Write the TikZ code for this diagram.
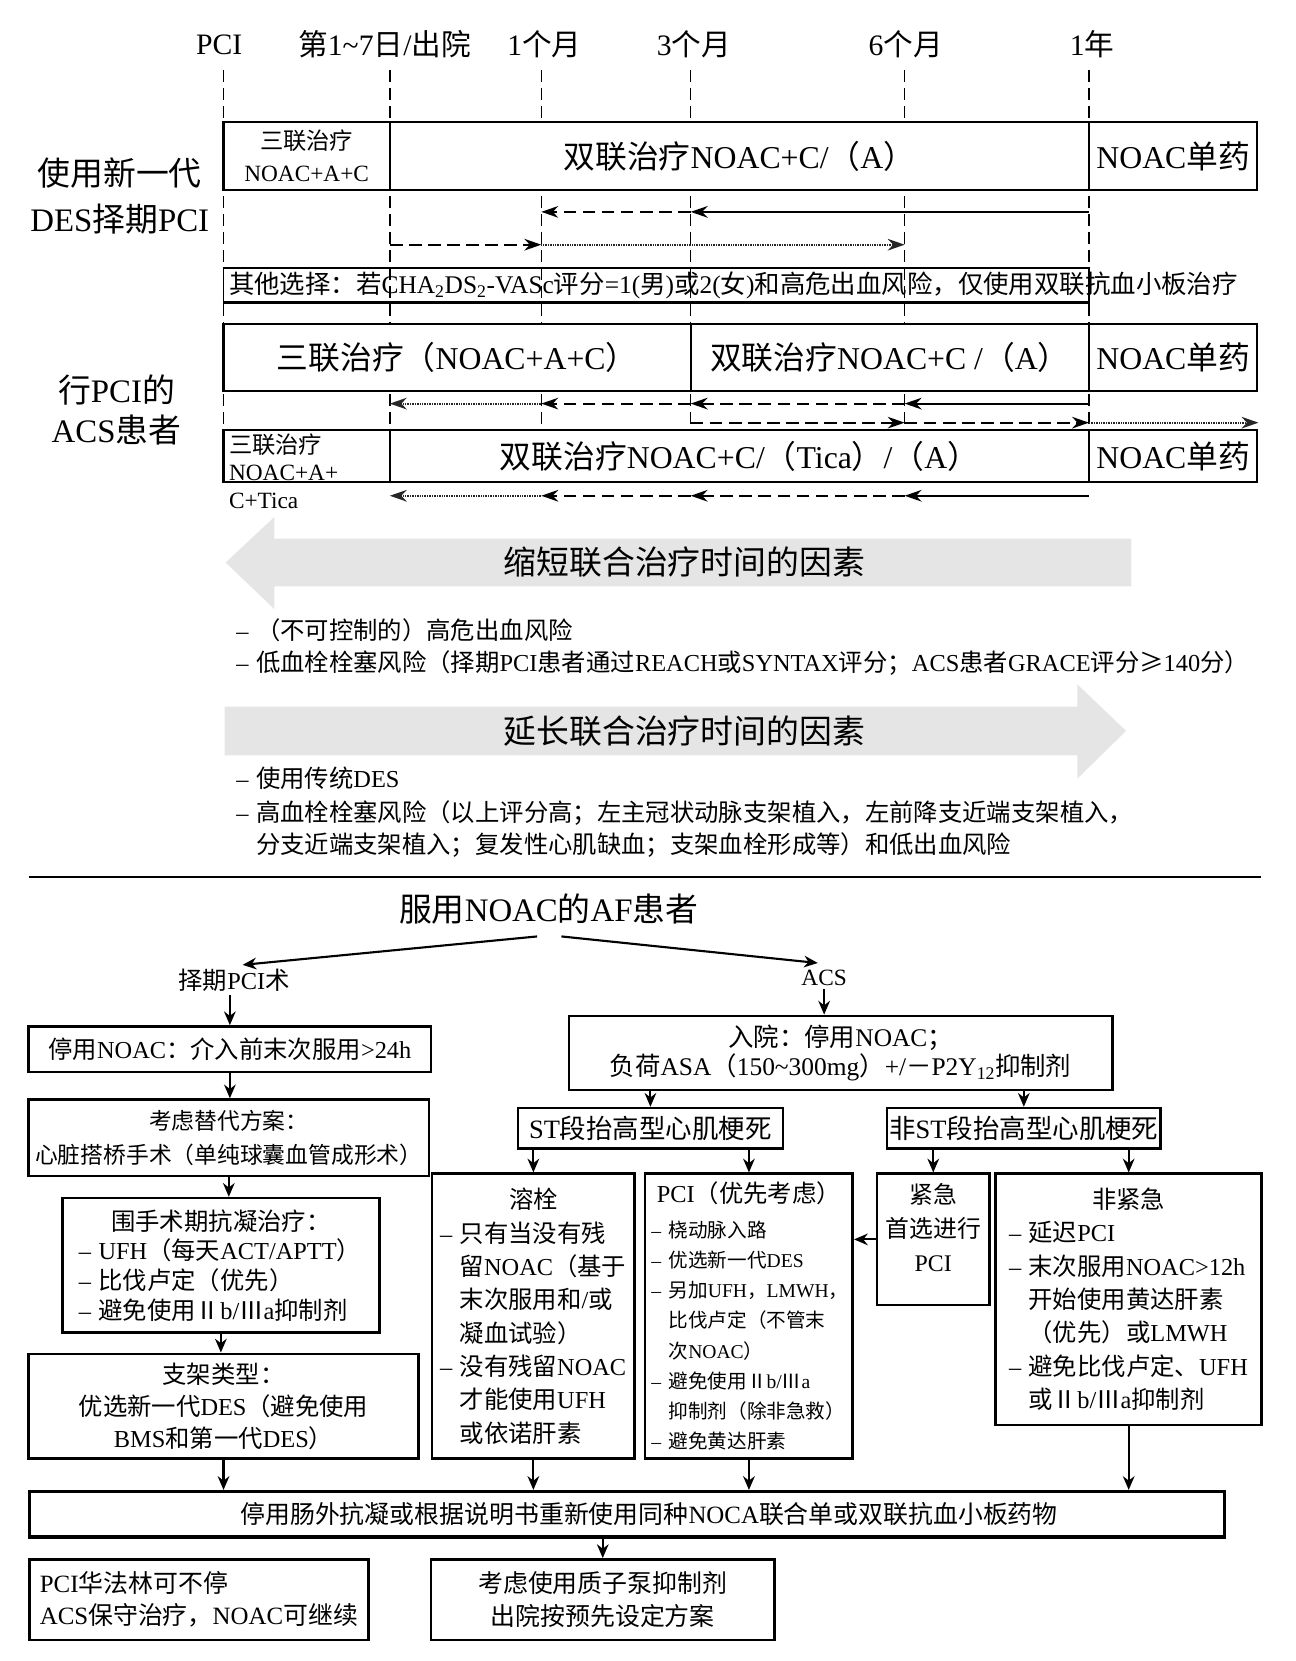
\documentclass[tikz,border=0pt]{standalone}
\usepackage{fontspec}
\setmainfont{Liberation Serif}
\newfontfamily\cjkfont{Noto Sans CJK SC}
\newfontfamily\latfont{Liberation Serif}
\usetikzlibrary{arrows.meta}

% Chinese characters switch to the CJK font
\XeTeXinterchartokenstate=1
\newXeTeXintercharclass\hanclass
\newcount\hancnt
\newcommand\hanrange[2]{%
  \hancnt=#1\relax
  \loop
    \XeTeXcharclass\hancnt=\hanclass
    \advance\hancnt by 1\relax
  \ifnum\hancnt<#2\relax\repeat}
\hanrange{"3000}{"3040}
\hanrange{"4E00}{"A000}
\hanrange{"FF00}{"FF70}
\hanrange{"2160}{"2170}
\XeTeXcharclass"2265=\hanclass
\XeTeXinterchartoks 0 \hanclass = {\cjkfont}
\XeTeXinterchartoks 4095 \hanclass = {\cjkfont}
\XeTeXinterchartoks \hanclass 0 = {\latfont}
\XeTeXinterchartoks 4095 0 = {\latfont}

\newcommand\fsz[2]{\fontsize{#1}{#2}\selectfont}
\newcommand\dline{–\hspace{7pt}}
\newcommand\dind{\hphantom{–}\hspace{7pt}}
\newlength\leftw
\newcommand\lrow[1]{\makebox[\leftw][l]{#1}}

\begin{document}
\begin{tikzpicture}[x=1pt,y=-1pt,
  >={Stealth[length=13pt,width=11pt]},
  vmark/.style={line width=1.5pt, dash pattern=on 11pt off 6pt},
  cell/.style={draw, line width=2pt, fill=white, inner sep=1pt, align=center},
  sarr/.style={-{Stealth[length=16pt,width=11pt]}, line width=2pt},
  darr/.style={sarr, dash pattern=on 12pt off 6pt},
  parr/.style={sarr, line width=1.8pt, black!85, dash pattern=on 0.8pt off 0.8pt},
  fbox/.style={draw, line width=2.4pt, fill=white, inner sep=2pt, align=center},
  arr/.style={->, line width=2pt}]

\useasboundingbox (0,0) rectangle (1223,1568);

% Time marks
\node[font=\fsz{28}{32}] (lpci) at (207,42) {PCI};
\node[font=\fsz{28}{32}] (lday) at (363,42) {第1\textasciitilde7日/出院};
\node[font=\fsz{28}{32}] (lm1) at (514,42) {1个月};
\node[font=\fsz{28}{32}] (lm3) at (655,42) {3个月};
\node[font=\fsz{28}{32}] (lm6) at (855,42) {6个月};
\node[font=\fsz{28}{32}] (ly1) at (1031,42) {1年};

\coordinate (tpci) at (211,66);
\coordinate (tday) at (368,66);
\coordinate (tm1) at (511,66);
\coordinate (tm3) at (652,66);
\coordinate (tm6) at (854,66);
\coordinate (ty1) at (1028,66);
\coordinate (tend) at (0,406);
\foreach \tm in {tpci,tday,tm1,tm3,tm6,ty1}
  \draw[vmark] (\tm) -- (\tm |- tend);

% Elective PCI rows
\node[font=\fsz{31}{44}, align=center] (grp1) at (113,185) {使用新一代\\DES择期PCI};
\node[cell, minimum width=157pt, minimum height=64.5pt, font=\fsz{22}{30}] (r1a) at (289.5,147.25) {三联治疗\\NOAC+A+C};
\node[cell, minimum width=660pt, minimum height=64.5pt, font=\fsz{30}{34}] (r1b) at (698,147.25) {双联治疗NOAC+C/（A）};
\node[cell, minimum width=159pt, minimum height=64.5pt, font=\fsz{30}{34}] (r1c) at (1107.5,147.25) {NOAC单药};

\coordinate (ya) at (0,200);
\coordinate (yb) at (0,231);
\draw[sarr] (ty1 |- ya) -- (tm3 |- ya);
\draw[darr] (tm3 |- ya) -- (tm1 |- ya);
\draw[darr] (tday |- yb) -- (tm1 |- yb);
\draw[parr] (tm1 |- yb) -- (tm6 |- yb);

% Other option
\node[draw, line width=1.4pt, minimum width=817pt, minimum height=32pt, inner sep=0pt] (other) at (619.5,269) {};
\draw[line width=3pt] (other.south west) -- (other.south east);
\node[anchor=west, inner sep=0pt, font=\fsz{24}{28}] (othertxt) at (216,269) {其他选择：若CHA\textsubscript{2}DS\textsubscript{2}-VASc评分=1(男)或2(女)和高危出血风险，仅使用双联抗血小板治疗};

% ACS rows
\node[font=\fsz{31}{38}, align=center] (grp2) at (110,387) {行PCI的\\ACS患者};
\node[cell, minimum width=441pt, minimum height=64pt, font=\fsz{30}{34}] (r2a) at (431.5,337.5) {三联治疗（NOAC+A+C）};
\node[cell, minimum width=376pt, minimum height=64pt, font=\fsz{30}{34}] (r2b) at (840,337.5) {双联治疗NOAC+C /（A）};
\node[cell, minimum width=159pt, minimum height=64pt, font=\fsz{30}{34}] (r2c) at (1107.5,337.5) {NOAC单药};

\coordinate (yc) at (0,381);
\coordinate (yd) at (0,399);
\draw[sarr] (ty1 |- yc) -- (tm6 |- yc);
\draw[darr] (tm6 |- yc) -- (tm3 |- yc);
\draw[darr] (tm3 |- yc) -- (tm1 |- yc);
\draw[parr] (tm1 |- yc) -- (tday |- yc);
\draw[darr] (tm3 |- yd) -- (tm6 |- yd);
\draw[darr] (tm6 |- yd) -- (ty1 |- yd);
\draw[parr] (ty1 |- yd) -- (r2c.east |- yd);

\node[cell, minimum width=157pt, minimum height=49pt] (r3a) at (289.5,430.5) {};
\node[cell, minimum width=660pt, minimum height=49pt, font=\fsz{30}{34}] (r3b) at (698,430.5) {双联治疗NOAC+C/（Tica）/（A）};
\node[cell, minimum width=159pt, minimum height=49pt, font=\fsz{30}{34}] (r3c) at (1107.5,430.5) {NOAC单药};
\node[anchor=north west, align=left, inner sep=0pt, font=\fsz{22}{26}] (r3txt) at (216,409) {三联治疗\\NOAC+A+\\C+Tica};

\coordinate (ye) at (0,468);
\draw[sarr] (ty1 |- ye) -- (tm6 |- ye);
\draw[darr] (tm6 |- ye) -- (tm3 |- ye);
\draw[darr] (tm3 |- ye) -- (tm1 |- ye);
\draw[parr] (tm1 |- ye) -- (tday |- ye);

% Shorter / longer therapy
\fill[gray!20] (213,531) -- (259,488) -- (259,508.5) -- (1068,508.5) -- (1068,553.5) -- (259,553.5) -- (259,575) -- cycle;
\node[font=\fsz{31}{36}] (shorter) at (646,531) {缩短联合治疗时间的因素};
\node[anchor=west, inner sep=0pt, font=\fsz{23}{30}] (sh1) at (223,594.5) {\dline （不可控制的）高危出血风险};
\node[anchor=west, inner sep=0pt, font=\fsz{23}{30}] (sh2) at (223,626) {\dline 低血栓栓塞风险（择期PCI患者通过REACH或SYNTAX评分；ACS患者GRACE评分≥140分）};

\fill[gray!20] (212,667) -- (1017,667) -- (1017,646) -- (1063,690) -- (1017,735) -- (1017,713) -- (212,713) -- cycle;
\node[font=\fsz{31}{36}] (longer) at (646,690) {延长联合治疗时间的因素};
\node[anchor=west, inner sep=0pt, font=\fsz{23}{30}] (lo1) at (223,734.5) {\dline 使用传统DES};
\node[anchor=west, inner sep=0pt, align=left, font=\fsz{23}{30}] (lo2) at (223,782.5) {\dline 高血栓栓塞风险（以上评分高；左主冠状动脉支架植入，左前降支近端支架植入，\\ \dind 分支近端支架植入；复发性心肌缺血；支架血栓形成等）和低出血风险};

\draw[line width=1.6pt] (27,828) -- (1190,828);

% Flow chart
\node[font=\fsz{31}{36}] (af) at (518,858) {服用NOAC的AF患者};
\node[font=\fsz{23}{28}] (elec) at (221,925) {择期PCI术};
\node[font=\fsz{22}{28}] (acs) at (778,923) {ACS};

\node[fbox, minimum width=380pt, minimum height=43pt, font=\fsz{23}{28}] (stop) at (217,990.5) {停用NOAC：介入前末次服用>24h};
\node[fbox, minimum width=378pt, minimum height=72pt, font=\fsz{21.5}{32}] (cabg) at (216,1074) {考虑替代方案：\\心脏搭桥手术（单纯球囊血管成形术）};
\node[fbox, minimum width=299pt, minimum height=127pt, font={\fsz{23}{28}\setlength\leftw{268pt}}] (peri) at (208.5,1194.5) {围手术期抗凝治疗：\\ \lrow{\dline UFH（每天ACT/APTT）}\\ \lrow{\dline 比伐卢定（优先）}\\ \lrow{\dline 避免使用Ⅱb/Ⅲa抑制剂}};
\node[fbox, minimum width=368pt, minimum height=99pt, font=\fsz{23}{30}] (stent) at (211,1327.5) {支架类型：\\优选新一代DES（避免使用\\BMS和第一代DES）};

\node[fbox, minimum width=513pt, minimum height=70pt, font=\fsz{24}{27}] (adm) at (793.5,994) {入院：停用NOAC；\\负荷ASA（150\textasciitilde300mg）+/－P2Y\textsubscript{12}抑制剂};
\node[fbox, minimum width=250pt, minimum height=38pt, font=\fsz{25}{28}] (stemi) at (614,1065) {ST段抬高型心肌梗死};
\node[fbox, minimum width=249pt, minimum height=38pt, font=\fsz{25}{28}] (nstemi) at (966.5,1065) {非ST段抬高型心肌梗死};

\node[fbox, minimum width=191pt, minimum height=269pt, font={\fsz{23}{31.5}\setlength\leftw{176pt}}] (lysis) at (503.5,1242.5) {溶栓\\ \lrow{\dline 只有当没有残}\\ \lrow{\dind 留NOAC（基于}\\ \lrow{\dind 末次服用和/或}\\ \lrow{\dind 凝血试验）}\\ \lrow{\dline 没有残留NOAC}\\ \lrow{\dind 才能使用UFH}\\ \lrow{\dind 或依诺肝素}};
\node[fbox, minimum width=196pt, minimum height=269pt, font={\fsz{18.5}{28.5}\setlength\leftw{184pt}}] (ppci) at (707,1242.5) {{\fsz{23}{28.5}PCI（优先考虑）}\\[4pt] \lrow{\dline 桡动脉入路}\\ \lrow{\dline 优选新一代DES}\\ \lrow{\dline 另加UFH，LMWH，}\\ \lrow{\dind 比伐卢定（不管末}\\ \lrow{\dind 次NOAC）}\\ \lrow{\dline 避免使用Ⅱb/Ⅲa}\\ \lrow{\dind 抑制剂（除非急救）}\\ \lrow{\dline 避免黄达肝素}};
\node[fbox, minimum width=106pt, minimum height=124pt, font=\fsz{22.5}{32}] (urg) at (881,1170) {紧急\\首选进行\\PCI\\[-9pt]\mbox{}};
\node[fbox, minimum width=251pt, minimum height=237pt, font={\fsz{23}{31.5}\setlength\leftw{226pt}}] (nurg) at (1065.5,1226.5) {非紧急\\ \lrow{\dline 延迟PCI}\\ \lrow{\dline 末次服用NOAC>12h}\\ \lrow{\dind 开始使用黄达肝素}\\ \lrow{\dind （优先）或LMWH}\\ \lrow{\dline 避免比伐卢定、UFH}\\ \lrow{\dind 或Ⅱb/Ⅲa抑制剂}};

\node[fbox, line width=3pt, minimum width=1128pt, minimum height=43pt, font=\fsz{23.5}{28}] (bar) at (591.75,1429.5) {\hspace*{42pt}停用肠外抗凝或根据说明书重新使用同种NOCA联合单或双联抗血小板药物};
\node[fbox, minimum width=320pt, minimum height=76pt, align=left, font=\fsz{23.5}{30}] (note) at (187.75,1510) {PCI华法林可不停\\ACS保守治疗，NOAC可继续};
\node[fbox, minimum width=324pt, minimum height=76pt, font=\fsz{23.5}{31}] (ppi) at (569,1510) {考虑使用质子泵抑制剂\\出院按预先设定方案};

% Connectors
\draw[arr] ([shift={(-11,26)}]af.center) -- ([xshift=8pt]elec.north);
\draw[arr] ([shift={(12,26)}]af.center) -- ([shift={(-6,-3)}]acs.north);
\draw[arr] (elec.south -| stop.north) -- (stop.north);
\draw[arr] (stop.south) -- (stop.south |- cabg.north);
\draw[arr] (cabg.south) -- (cabg.south |- peri.north);
\draw[arr] (peri.south) -- (peri.south |- stent.north);
\draw[arr] (stent.south) -- (stent.south |- bar.north);
\draw[arr] (acs.south) -- (acs.south |- adm.north);
\draw[arr] (stemi.north |- adm.south) -- (stemi.north);
\draw[arr] (nstemi.north |- adm.south) -- (nstemi.north);
\draw[arr] (lysis.north |- stemi.south) -- (lysis.north);
\draw[arr] (ppci.north |- stemi.south) -- (ppci.north);
\draw[arr] (urg.north |- nstemi.south) -- (urg.north);
\draw[arr] (nurg.north |- nstemi.south) -- (nurg.north);
\draw[arr] (urg.west) -- (urg.west -| ppci.east);
\draw[arr] (lysis.south) -- (lysis.south |- bar.north);
\draw[arr] (ppci.south) -- (ppci.south |- bar.north);
\draw[arr] (nurg.south) -- (nurg.south |- bar.north);
\draw[arr] (ppi.north |- bar.south) -- (ppi.north);

\end{tikzpicture}
\end{document}
